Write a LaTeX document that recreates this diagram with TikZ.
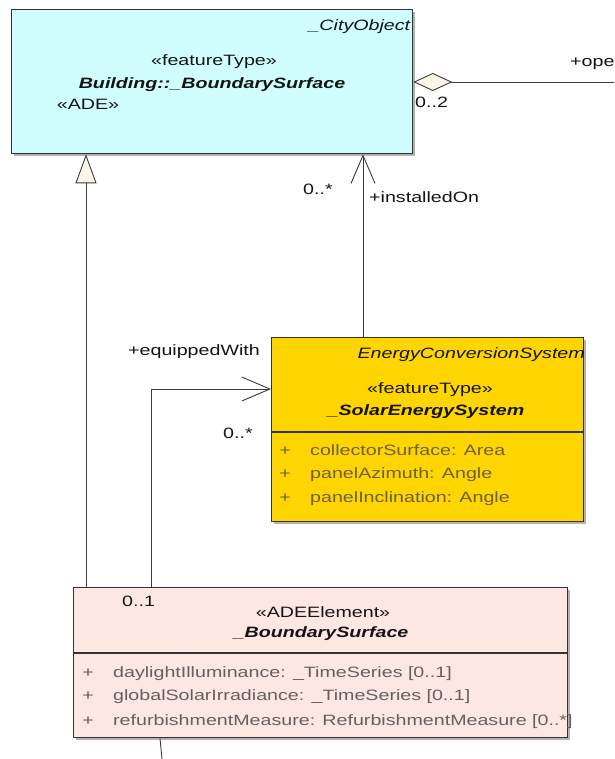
\documentclass[tikz,border=0pt]{standalone}
\usepackage{fontspec}
\setmainfont{Liberation Sans}[FakeStretch=1.31]
\usetikzlibrary{arrows.meta,shadows}

\definecolor{adecyan}{RGB}{208,254,255}
\definecolor{featyellow}{RGB}{255,213,0}
\definecolor{elempink}{RGB}{253,231,227}
\definecolor{tipfill}{RGB}{252,246,230}
\definecolor{attrbrown}{RGB}{110,96,60}
\definecolor{attrgray}{RGB}{100,96,96}
\definecolor{linegray}{RGB}{60,60,60}

\begin{document}
\begin{tikzpicture}[x=1pt, y=-1pt,
			every node/.style={inner sep=0pt, font=\fontsize{15}{17}\selectfont, text=black!92},
			classbox/.style={draw=black!80, line width=1.3pt, anchor=north west,
				drop shadow={shadow xshift=2.5pt, shadow yshift=-2.5pt, opacity=.3, fill=black}},
			sep/.style={draw=black!80, line width=1.2pt},
			lbl/.style={anchor=base west},
			mid/.style={anchor=base},
			attr/.style={anchor=base west},
			conn/.style={draw=linegray, line width=0.9pt},
			assoc/.style={conn, -{Straight Barb[length=28pt, width=24pt, line width=0.9pt]}},
			gen/.style={conn, -{Triangle[length=29pt, width=21pt, fill=tipfill, line width=0.9pt]}},
			aggr/.style={conn, {Diamond[length=39pt, width=18pt, fill=tipfill, line width=0.9pt]}-}]
			
			\useasboundingbox[fill=white] (0,0) rectangle (614,759);
			
			% class boxes
			\node[classbox, fill=adecyan, minimum width=401, minimum height=144] (bsurf) at (11,9) {};
			\node[classbox, fill=featyellow, minimum width=312, minimum height=184] (solar) at (271,337) {};
			\node[classbox, fill=elempink, minimum width=494, minimum height=150] (adeel) at (73,587) {};
			\draw[sep] (solar.west |- 0,432) -- (solar.east |- 0,432);
			\draw[sep] (adeel.west |- 0,653) -- (adeel.east |- 0,653);
			
			% Building::_BoundarySurface
			\node[anchor=base east] (cityobj) at (411,31) {\textit{\_CityObject}};
			\node[mid] (bsurfst) at (214,66) {«featureType»};
			\node[mid] (bsurfname) at (212,89) {\textbf{\textit{Building::\_BoundarySurface}}};
			\node[mid] (adest) at (88,110) {«ADE»};
			
			% _SolarEnergySystem
			\node[anchor=base east] (ecs) at (585,358) {\textit{EnergyConversionSystem}};
			\node[mid] (solarst) at (430,393) {«featureType»};
			\node[mid] (solarname) at (426,415) {\textbf{\textit{\_SolarEnergySystem}}};
			\begin{scope}[every node/.append style={text=attrbrown}]
				\node[mid] (sp1) at (285,455) {+};
				\node[attr] (sa1) at (310,455) {collectorSurface: Area};
				\node[mid] (sp2) at (285,478) {+};
				\node[attr] (sa2) at (310,478) {panelAzimuth: Angle};
				\node[mid] (sp3) at (285,502) {+};
				\node[attr] (sa3) at (310,502) {panelInclination: Angle};
			\end{scope}
			
			% _BoundarySurface
			\node[mid] (adeelst) at (323,617) {«ADEElement»};
			\node[mid] (adeelname) at (321,637) {\textbf{\textit{\_BoundarySurface}}};
			\begin{scope}[every node/.append style={text=attrgray}]
				\node[mid] (bp1) at (88,677) {+};
				\node[attr] (ba1) at (113,677) {daylightIlluminance: \_TimeSeries [0..1]};
				\node[mid] (bp2) at (88,700) {+};
				\node[attr] (ba2) at (113,700) {globalSolarIrradiance: \_TimeSeries [0..1]};
				\node[mid] (bp3) at (88,725) {+};
				\node[attr] (ba3) at (113,725) {refurbishmentMeasure: RefurbishmentMeasure [0..*]};
			\end{scope}
			
			% connectors
			\coordinate (genS) at ([xshift=13]adeel.north west);
			\draw[gen] (genS) -- (genS |- bsurf.south);
			
			\coordinate (instS) at ([xshift=92]solar.north west);
			\draw[assoc] (instS) -- (instS |- bsurf.south);
			\node[lbl] (instm) at (303,195) {0..*};
			\node[lbl] (instr) at (369,203) {+installedOn};
			
			\coordinate (eqS) at ([xshift=78]adeel.north west);
			\draw[assoc] (eqS) |- ([yshift=-52]solar.north west);
			\node[lbl] (eqr) at (128,355) {+equippedWith};
			\node[lbl] (eqm) at (223,438) {0..*};
			\node[lbl] (eqs) at (122,606) {0..1};
			
			\coordinate (opEnd) at (614,82);
			\draw[aggr] (bsurf.east |- opEnd) -- (opEnd);
			\node[lbl] (opr) at (570,67) {+ope};
			\node[lbl] (opm) at (415,108) {0..2};
			
			\coordinate (tail) at (162,759);
			\draw[conn] ([xshift=87]adeel.south west) -- (tail);
			
		\end{tikzpicture}
\end{document}
